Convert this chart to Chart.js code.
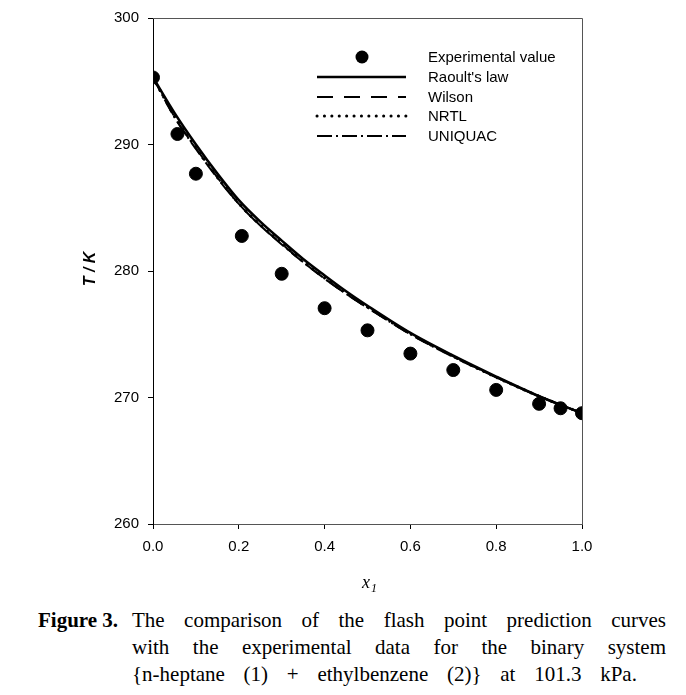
<!DOCTYPE html>
<html>
<head>
<meta charset="utf-8">
<script src="https://cdn.jsdelivr.net/npm/chart.js@4"></script>
<style>
  body { margin: 0; background: #fff; }
  #wrap { position: relative; width: 686px; height: 695px; }
  #box { position: absolute; left: 0; top: 0; width: 686px; height: 600px; }
  .cap { position: absolute; font-family: "Liberation Serif", serif; font-size: 21px; color: #000; white-space: nowrap; }
  .line { position: absolute; left: 132px; width: 534px; text-align: justify; text-align-last: justify; }
</style>
</head>
<body>
<div id="wrap">
  <div id="box"><canvas id="chart"></canvas></div>
  <div class="cap" style="left:38px;top:608px;font-weight:bold;">Figure 3.</div>
  <div class="cap line" style="top:608px;">The comparison of the flash point prediction curves</div>
  <div class="cap line" style="top:635px;">with the experimental data for the binary system</div>
  <div class="cap" style="left:132px;top:662px;word-spacing:13.5px;">{n-heptane (1) + ethylbenzene (2)} at 101.3 kPa.</div>
</div>
<script>
// experimental points
const xExp = [0, 0.057, 0.1, 0.207, 0.3, 0.4, 0.5, 0.6, 0.7, 0.8, 0.9, 0.95, 1.0];
const tExp = [295.3, 290.83, 287.69, 282.77, 279.78, 277.06, 275.31, 273.47, 272.17, 270.60, 269.50, 269.15, 268.76];

// model curves
const xCalc = [0, 0.05, 0.1, 0.15, 0.2, 0.25, 0.3, 0.35, 0.4, 0.45, 0.5, 0.6, 0.7, 0.8, 0.9, 1.0];
const tRaoult  = [295.3, 292.5, 290.0, 287.7, 285.6, 283.9, 282.4, 280.95, 279.65, 278.4, 277.25, 275.1, 273.3, 271.65, 270.1, 268.76];
const tWilson  = [295.3, 292.2, 289.7, 287.4, 285.3, 283.6, 282.15, 280.7, 279.4, 278.2, 277.1, 275.0, 273.25, 271.6, 270.1, 268.76];
const tNRTL    = [295.3, 292.25, 289.75, 287.45, 285.35, 283.65, 282.2, 280.75, 279.45, 278.25, 277.15, 275.05, 273.25, 271.6, 270.1, 268.76];
const tUNIQUAC = [295.3, 292.15, 289.65, 287.35, 285.3, 283.6, 282.1, 280.7, 279.4, 278.2, 277.1, 275.0, 273.2, 271.6, 270.1, 268.76];

const yTicks = [260, 270, 280, 290, 300];
const xTicks = [0, 0.2, 0.4, 0.6, 0.8, 1.0];

const pts = (xs, ys) => xs.map((x, i) => ({x: x, y: ys[i]}));

function curve(label, data, width, dash, cap) {
  return {
    label: label, data: data, showLine: true, pointRadius: 0,
    borderColor: '#000', borderWidth: width, borderDash: dash,
    borderCapStyle: cap || 'butt', tension: 0.4, cubicInterpolationMode: 'monotone', fill: false
  };
}

// frame + legend + axis titles
const extras = {
  id: 'extras',
  afterDraw(chart) {
    const ctx = chart.ctx, a = chart.chartArea;
    ctx.save();
    ctx.strokeStyle = '#555';
    ctx.lineWidth = 1;
    ctx.beginPath();
    ctx.moveTo(a.left, a.top + 0.5);
    ctx.lineTo(a.right + 0.5, a.top + 0.5);
    ctx.lineTo(a.right + 0.5, a.bottom);
    ctx.stroke();

    // legend
    const ds = chart.data.datasets;
    const rows = [57, 77, 97, 116, 136];
    ctx.font = '15px "Liberation Sans", Arial, sans-serif';
    ctx.fillStyle = '#000';
    ctx.textBaseline = 'middle';
    ds.forEach((d, i) => {
      const y = rows[i];
      if (!d.showLine) {
        ctx.beginPath();
        ctx.arc(362, y, d.pointRadius, 0, Math.PI * 2);
        ctx.fill();
      } else {
        ctx.beginPath();
        ctx.setLineDash(d.borderDash || []);
        ctx.lineCap = d.borderCapStyle;
        ctx.lineWidth = d.borderWidth;
        ctx.strokeStyle = '#000';
        ctx.moveTo(317, y);
        ctx.lineTo(406, y);
        ctx.stroke();
        ctx.setLineDash([]);
      }
      ctx.fillText(d.label, 428, y + 1);
    });

    // y title
    ctx.save();
    ctx.translate(91, 269);
    ctx.rotate(-Math.PI / 2);
    ctx.textAlign = 'center';
    ctx.font = 'italic bold 16px "Liberation Sans", Arial, sans-serif';
    ctx.fillText('T / K', 0, 0);
    ctx.restore();

    // x title
    ctx.font = 'italic 18px "Liberation Serif", serif';
    ctx.textAlign = 'left';
    ctx.fillText('x', 362, 583);
    ctx.font = 'italic 12px "Liberation Serif", serif';
    ctx.fillText('1', 371, 589);
    ctx.restore();
  }
};

new Chart(document.getElementById('chart'), {
  type: 'scatter',
  data: {
    datasets: [
      {label: 'Experimental value', data: pts(xExp, tExp), pointRadius: 6.5, pointHoverRadius: 6.5,
       backgroundColor: '#000', borderColor: '#000', showLine: false},
      curve("Raoult's law", pts(xCalc, tRaoult), 2.6, []),
      curve('Wilson', pts(xCalc, tWilson), 2, [16, 11]),
      curve('NRTL', pts(xCalc, tNRTL), 3, [0.1, 7.3], 'round'),
      curve('UNIQUAC', pts(xCalc, tUNIQUAC), 2, [15, 4, 2, 4])
    ]
  },
  options: {
    responsive: true,
    maintainAspectRatio: false,
    animation: false,
    layout: {padding: {left: 0, top: 15, right: 104, bottom: 0}},
    plugins: {legend: {display: false}, tooltip: {enabled: false}},
    scales: {
      x: {
        type: 'linear', min: 0, max: 1,
        afterFit: s => { s.height = 76; },
        afterBuildTicks: s => { s.ticks = xTicks.map(v => ({value: v})); },
        ticks: {color: '#000', padding: 9, maxRotation: 0, font: {family: '"Liberation Sans", Arial', size: 15},
                callback: v => v.toFixed(1)},
        grid: {drawOnChartArea: false, tickLength: 5, color: '#000'},
        border: {color: '#555', width: 1}
      },
      y: {
        type: 'linear', min: 260, max: 300,
        afterFit: s => { s.width = 153; },
        afterBuildTicks: s => { s.ticks = yTicks.map(v => ({value: v})); },
        ticks: {color: '#000', padding: 9, font: {family: '"Liberation Sans", Arial', size: 15}},
        grid: {drawOnChartArea: false, tickLength: 5, color: '#000'},
        border: {color: '#000', width: 1}
      }
    }
  },
  plugins: [extras]
});
</script>
</body>
</html>
